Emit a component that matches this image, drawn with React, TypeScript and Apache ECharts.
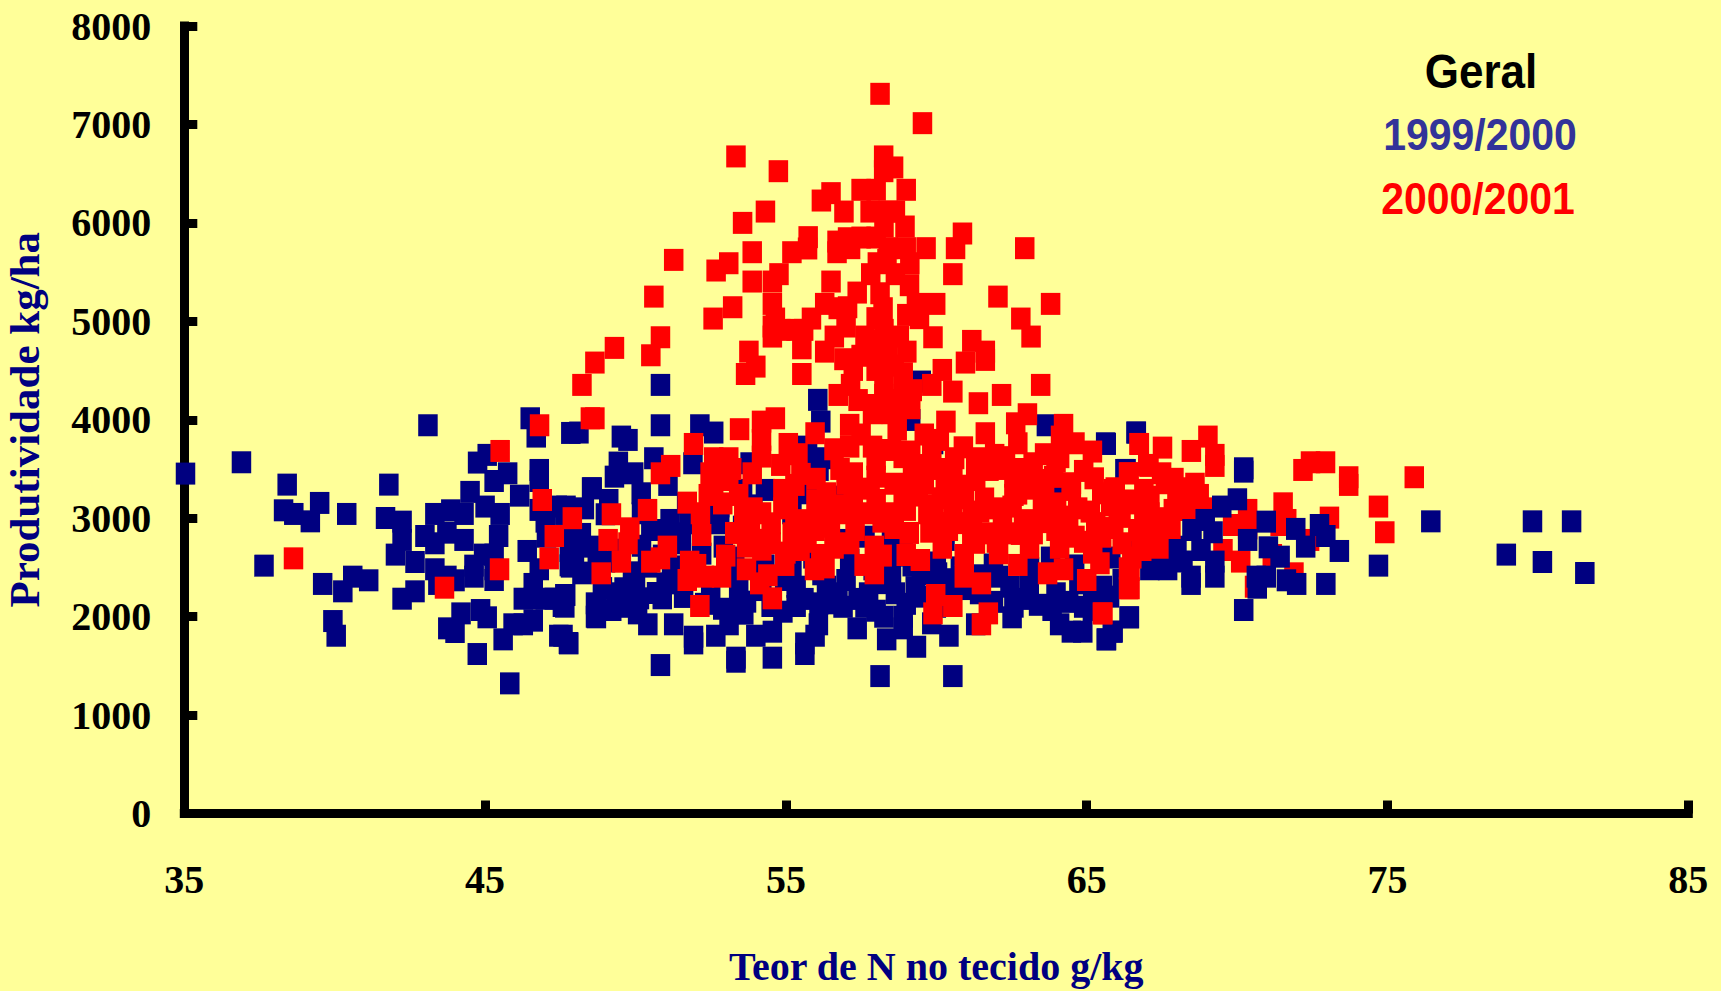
import React, { useEffect, useRef } from "react";
import * as echarts from "echarts";

const xTicks = [35, 45, 55, 65, 75, 85];
const yTicks = [0, 1000, 2000, 3000, 4000, 5000, 6000, 7000, 8000];

// 1999/2000 - drawn below the red points
const blueUnder: number[][] = [
[35.04,3453],[36.9,3568],[38.42,3341],[38.3,3080],[38.64,3043],[39.19,2968],[39.5,3155],[40.4,3043],[41.8,3341],[37.65,2518],
[39.6,2332],[40.27,2257],[40.6,2406],[41.13,2369],[39.94,1955],[40.05,1806],[43.1,3944],[41.69,3002],[42.24,2965],[42.24,2779],
[42.02,2630],[42.67,2555],[42.67,2257],[42.24,2182],[43.33,3043],[43.86,3080],[44.3,3043],[43.0,2819],[43.33,2745],[43.73,2853],
[44.3,2779],[43.33,2481],[43.73,2406],[44.0,2369],[43.43,2332],[43.76,1881],[44.0,1844],[44.2,2033],[44.85,2067],[45.07,1993],
[44.74,1620],[45.82,1322],[45.6,1769],[45.93,1922],[46.27,1922],[46.6,1959],[46.27,2182],[46.6,2182],[47.0,2182],[47.3,2182],
[47.68,2220],[47.57,2108],[46.6,2332],[46.8,2481],[44.63,2518],[44.63,2406],[44.95,2630],[45.3,2630],[45.3,2481],[45.3,2372],
[45.45,2819],[45.5,3043],[45.0,3118],[44.5,3267],[44.75,3565],[45.07,3643],[45.75,3456],[45.3,3378],[46.15,3229],[46.8,3490],
[46.8,3378],[46.7,3829],[46.5,4015],[47.85,3866],[46.4,2667],[46.8,3084],[47.0,2965],[47.4,3118],[47.65,3043],[47.04,2812],
[47.8,2667],[47.8,2521],[48.25,2447],[48.56,3304],[48.7,2067],[48.7,1993],[47.45,1806],[47.77,1732],
[48.12,3870],[50.83,3944],[52.14,3944],[52.6,3870],[49.53,3829],[49.75,3795],[56.16,3981],[59.15,3998],[50.61,3609],[49.43,3565],
[49.94,3456],[49.3,3422],[48.54,3304],[49.11,3185],[50.19,3253],[51.08,3338],[51.91,3558],[53.81,3558],[55.72,3710],[56.35,3609],
[55.85,3490],[56.1,3490],[55.47,3727],[63.66,3944],[66.65,3870],[65.63,3761],[66.27,3490],[64.0,3328],[59.91,3761],[47.69,3118],
[47.69,3050],[51.27,2846],[50.64,2880],[47.84,2795],[48.54,2711],[47.84,2508],[48.22,2440],[49.62,2288],[50.13,2186],[50.89,2186],
[47.65,2220],[47.65,2101],[48.67,2135],[48.67,1999],[49.21,2067],[50.07,2033],[50.41,1922],[51.27,1922],[47.78,1728],[47.59,1806],
[50.83,1508],[51.93,1728],[51.93,1796],[52.67,1806],[53.11,1922],[53.37,2067],[53.69,2152],[53.34,1583],[53.34,1542],[54.0,1806],
[54.55,1847],[54.55,1583],[55.63,1620],[55.63,1728],[55.97,1806],[56.08,1922],[54.51,2108],[55.34,2108],[56.1,2135],[56.48,2135],
[57.37,1881],[57.63,2101],[58.26,1999],[58.9,1999],[58.13,1396],[58.35,1769],[58.9,1881],[59.34,1694],[60.55,1396],[59.85,1932],
[60.42,1806],[61.31,1922],[62.52,1993],[62.58,2101],[63.85,2067],[64.1,1922],[64.49,1847],[64.87,1847],[65.66,1769],[65.88,1847],
[66.42,1993],[65.76,2203],[66.2,2372],[65.19,2067],[56.73,2237],[57.75,2237],[58.64,2237],[59.4,2203],[61.44,2237],[62.45,2304],
[63.09,2304],[63.98,2237],[64.74,2338],[65.5,2270],[55.34,2304],[56.35,2304],[57.0,2372],[58.51,2406],[60.04,2440],[62.07,2406],
[54.96,2372],[53.43,2270],[49.37,2237],[50.0,2338],[51.02,2338],[50.4,2508],[48.73,2643],[47.97,2643],[51.53,2745],[52.92,2711],
[53.05,2474],[50.51,2880],[51.15,2982],[51.78,2948],[52.8,2948],[53.56,2914],[57.12,2575],[56.74,2779],[57.63,2812],[58.51,2779],
[58.9,2812],[60.29,2779],[53.56,3287],[54.32,3287],[55.72,3253],[56.61,3219],[65.65,3754],[66.31,3490],[66.64,3870],[67.75,2626],
[67.1,2481],[67.69,2481],[66.18,2372],[65.52,2304],[66.41,1993],[65.85,1847],[65.65,1769],[59.5,4388],[56.06,4202],[50.83,4354],
[48.9,2290],[49.6,2100],[50.7,2240],[51.6,2200],[52.3,2130],[52.9,2080],[53.6,2030],[54.2,2270],[54.9,2050],[55.6,2180],
[56.9,2100],[57.4,2180],[58.0,2060],[58.3,2340],[59.0,2130],[59.3,2300],[60.0,2100],[60.5,2200],[60.9,2280],[61.9,2150],
[62.9,2180],[63.4,2120],[64.4,2150],[64.9,2100],[65.2,2240],[63.1,2490],[63.8,2600],[64.6,2520],[65.8,2600],[66.6,2660],
[59.5,2430],[60.8,2500],[61.9,2530],[55.9,2600],[55.2,2480],[54.3,2520],[53.3,2600],[52.2,2640],[51.2,2510],[49.4,2680],
[49.0,3040],[48.3,3100],[50.2,3050],[51.7,3150],[52.8,3120],[53.9,3130],[55.2,3050],[60.0,2550],[58.6,2620],[67.2,2560],[68.0,2710],[68.2,2560],
[48.2,2840],[49.0,2560],[49.9,2450],[50.2,2720],[50.9,2620],[51.5,2420],[52.5,2300],[56.2,2430],[57.9,2480],[59.2,2520],[60.3,2380],[61.5,2420]
];

// 2000/2001
const redValues: number[][] = [
[38.63,2592],[43.65,2294],[47.3,2819],[47.13,2592],[46.9,3185],[47.9,3000],[45.48,2481],[45.5,3683],[46.81,3944],[48.5,4015],
[58.13,7311],[59.54,7013],[53.34,6675],[54.75,6525],[58.25,6675],[58.25,6525],[58.58,6563],[56.5,6302],[56.18,6227],[57.5,6336],
[58.0,6336],[59.0,6336],[56.93,6115],[57.8,6115],[58.4,6115],[58.64,6115],[54.32,6115],[53.56,6000],[58.26,5963],[58.96,5963],
[55.74,5855],[60.87,5892],[60.64,5743],[55.72,5740],[55.2,5702],[53.88,5702],[56.7,5810],[57.05,5844],[57.5,5851],[58.0,5851],
[56.7,5702],[57.15,5743],[58.4,5743],[59.0,5743],[59.66,5743],[62.94,5743],[51.27,5624],[53.1,5590],[52.68,5516],[58.04,5590],
[58.36,5624],[59.12,5590],[53.88,5404],[54.77,5479],[54.55,5404],[56.5,5404],[57.82,5479],[58.64,5479],[59.11,5367],[60.55,5479],
[50.61,5251],[57.37,5292],[58.13,5285],[62.05,5251],[63.8,5177],[54.55,5177],[56.29,5177],[56.74,5133],[57.05,5143],[59.34,5177],
[59.98,5177],[58.23,5133],[53.23,5143],[52.58,5028],[54.65,5028],[55.85,5028],[57.0,4947],[58.0,5032],[59.02,5065],[59.44,5032],
[62.81,5028],[63.15,4845],[50.83,4838],[50.51,4655],[49.3,4730],[48.65,4581],[48.22,4354],[54.55,4947],[54.55,4845],[54.83,4913],
[55.34,4913],[55.59,4913],[55.53,4726],[56.61,4845],[56.29,4692],[56.93,4615],[57.63,4845],[58.26,4913],[58.77,4845],[57.75,4710],
[58.39,4710],[59.02,4692],[59.89,4838],[61.18,4801],[61.63,4692],[61.63,4608],[60.97,4581],[53.77,4692],[54.0,4540],[53.66,4465],
[55.53,4465],[57.24,4506],[58.0,4506],[58.9,4472],[60.2,4506],[59.85,4354],[60.55,4286],[61.4,4168],[62.17,4252],[63.47,4354],
[57.15,4354],[56.74,4252],[58.26,4354],[58.9,4354],[58.26,4252],[57.4,4200],[57.9,4150],[58.7,4200],[59.2,4300],[57.5,4650],[58.1,4600],[58.6,4550],[58.2,4800],
[48.65,4015],[53.46,3904],[54.19,3981],[54.65,4015],[54.19,3795],[55.08,3754],[51.93,3754],[55.97,3863],[57.88,4066],[58.51,4066],
[59.15,4117],[60.32,3981],[63.03,4056],[62.64,3964],[64.23,3948],[64.13,3829],[61.63,3863],[60.1,3795],[64.61,3761],[65.19,3677],
[62.71,3761],[66.75,3754],[57.12,3948],[57.12,3727],[57.88,3727],[58.51,3693],[59.15,3677],[59.85,3643],[60.61,3609],[61.31,3609],
[61.94,3643],[63.22,3558],[63.98,3575],[52.6,3609],[53.1,3609],[51.17,3531],[50.83,3456],[53.88,3456],[54.19,3626],[54.83,3541],
[52.48,3456],[53.1,3388],[57.24,3456],[58.0,3422],[59.21,3422],[60.55,3456],[61.31,3388],[61.75,3490],[62.58,3422],[63.34,3388],
[64.49,3355],[65.25,3405],[66.39,3456],[65.95,3304],[67.03,3541],[55.3,3338],[54.9,3287],[56.35,3253],[52.42,3236],[51.72,3158],
[53.43,3236],[57.24,3236],[58.0,3185],[58.9,3236],[60.17,3202],[60.93,3202],[62.58,3236],[63.6,3236],[64.49,3287],[65.5,3253],
[66.9,3287],[50.4,3084],[49.2,3040],[55.08,3151],[54.19,3050],[56.16,3050],[57.0,3050],[58.2,2965],[59.0,3084],[59.72,3050],
[60.55,3050],[61.44,3067],[62.52,3118],[63.53,3118],[64.3,3016],[65.12,3067],[66.14,3016],[52.16,3050],[52.2,2829],[49.81,2897],
[49.09,2779],[49.75,2745],[51.06,2711],[50.51,2558],[49.53,2558],[50.83,2592],[48.86,2440],[51.8,2558],[52.03,2525],[51.72,2372],
[52.29,2406],[52.86,2406],[53.69,2711],[53.82,2880],[53.69,2481],[54.13,2338],[54.55,2186],[52.14,2108],[54.51,2948],[55.21,2846],
[54.51,2745],[54.96,2525],[55.47,2677],[55.95,2481],[56.16,2626],[55.97,2880],[56.48,2914],[57.12,2745],[57.94,2711],[57.6,2525],
[57.94,2440],[59.0,2626],[59.47,2575],[59.79,2863],[61.18,2846],[59.98,2220],[59.89,2033],[60.55,2108],[61.73,2033],[61.5,1922],
[60.93,2626],[60.93,2406],[61.5,2338],[61.69,2846],[62.07,2643],[62.71,2525],[62.45,2846],[63.22,2846],[63.98,2880],[64.61,2812],
[65.5,2812],[63.7,2440],[64.23,2481],[65.0,2372],[65.44,2542],[66.39,2288],[66.39,2491],[65.54,2033],
[75.89,3416],[73.71,3416],[73.71,3338],[74.7,3118],[74.91,2857],[73.07,3006],[72.19,3490],[72.44,3568],[72.94,3568],[71.53,3151],
[71.65,2982],[71.43,2931],[72.41,2779],[71.89,2440],[70.35,3084],[69.85,2931],[70.35,2897],[69.53,2677],[70.12,2559],[70.58,2304],
[71.17,2626],[69.03,3829],[68.48,3683],[69.26,3643],[69.26,3531],[67.52,3717],[66.74,3754],[67.07,3531],[67.49,3456],[66.41,3456],
[67.62,3355],[68.28,3304],[68.74,3236],[65.9,3287],[67.1,3219],[67.1,3050],[67.88,3084],[68.2,3084],[66.05,3016],[66.7,2880],
[67.36,2880],[66.18,2745],[66.83,2677],[66.44,2474],[66.44,2288],[65.52,2033],
[53.9,3100],[54.9,3100],[55.6,2980],[56.7,3130],[57.6,3050],[58.6,3050],[59.4,3230],[60.1,2950],[60.9,3330],[61.9,3100],
[62.9,2980],[63.9,3030],[64.7,3100],[65.8,3130],[66.6,3150],[67.5,3000],[68.0,3200],[68.5,3100],[67.9,3400],[66.9,2950],
[58.0,3600],[57.5,3850],[58.7,3900],[59.6,3850],[60.3,3350],[62.1,3500],[63.0,3300],[64.0,3150],[65.3,2950],[61.3,2750],
[62.2,2950],[63.1,2700],[64.1,2700],[65.2,2650],[55.5,3450],[56.0,3400],[56.8,3500],[57.8,3300],[58.6,3350],[59.6,3350],
[60.5,3250],[61.6,3200],[62.9,3500],[63.6,3650],[56.6,2700],[55.0,2650],[54.2,2680],[53.3,2850],[58.6,2900],[59.1,2850],[60.2,2700],
[52.9,3150],[53.2,3500],[53.0,2620],[52.6,3300],[53.6,3050],[54.0,2780],[54.4,2420],[55.3,2950],[55.7,2760],[56.3,2500],
[57.3,2880],[58.2,2620],[59.9,3130],[60.4,2880],[61.0,2950],[62.0,2760],[62.8,2840],[63.5,2960],[64.4,2920],[64.9,2760],[65.9,2900],[66.5,2600],
[68.6,3350],[68.9,3100],[67.4,2700],[67.0,2800],[67.8,2900],[66.3,3180],[64.9,3480],[64.1,3620],[60.9,3720],[62.3,3620],
[59.4,3540],[58.9,3620],[56.6,3700],[55.4,3650],[56.0,3180],[57.0,3350],[61.2,3000],[62.7,3250],[60.0,3500],[63.9,3420]
];

// 1999/2000 - points lying over the red ones on the right-hand side
const blueOver: number[][] = [
[70.22,3473],[70.22,3507],[76.44,2968],[79.82,2968],[81.12,2968],[78.95,2630],[80.15,2555],[81.56,2443],[74.7,2518],[72.95,2332],
[73.4,2667],[72.95,2819],[72.74,2931],[72.28,2711],[71.95,2891],[71.98,2332],[71.64,2369],[71.43,2609],[71.04,2704],[70.97,2965],
[70.01,3192],[69.49,3118],[68.94,2982],[69.2,2857],[68.5,2880],[68.8,2677],[70.35,2779],[69.26,2559],[69.26,2406],[68.47,2406],
[68.47,2332],[70.67,2294],[70.64,2406],[70.97,2406],[70.22,2067]
];

const legendLines = ["Geral", "1999/2000", "2000/2001"];

const serif = "Liberation Serif";
const sans = "Liberation Sans";
const NAVY = "#000080";
const RED = "#FF0000";

export default function App() {
  const ref = useRef<HTMLDivElement>(null);
  useEffect(() => {
    document.body.style.margin = "0";
    document.body.style.background = "#FFFF99";
    const chart = echarts.init(ref.current!, undefined, { renderer: "svg" });
    const marker = {
      type: "scatter" as const,
      symbol: "rect",
      symbolSize: [19.5, 22],
      clip: false,
    };
    const axisLine = { show: true, onZero: false, lineStyle: { color: "#000", width: 9, cap: "square" as const } };
    const axisTick = { show: true, inside: true, length: 13, lineStyle: { color: "#000", width: 9 } };
    const tickLabel = { color: "#000", fontFamily: serif, fontWeight: "bold", fontSize: 40, formatter: (v: number) => String(v) };
    chart.setOption({
      animation: false,
      backgroundColor: "#FFFF99",
      grid: { left: 184.3, right: 32.7, top: 26, bottom: 177.5, containLabel: false, outerBoundsMode: "none" },
      xAxis: {
        type: "value", min: xTicks[0], max: xTicks[xTicks.length - 1], interval: 10,
        splitLine: { show: false }, axisLine, axisTick,
        axisLabel: { ...tickLabel, margin: 46 },
        name: "Teor de N no tecido g/kg", nameLocation: "middle", nameGap: 133,
        nameTextStyle: { color: NAVY, fontFamily: serif, fontWeight: "bold", fontSize: 40 },
      },
      yAxis: {
        type: "value", min: yTicks[0], max: yTicks[yTicks.length - 1], interval: 1000,
        splitLine: { show: false }, axisLine, axisTick,
        axisLabel: { ...tickLabel, margin: 33 },
        name: "Produtividade kg/ha", nameLocation: "middle", nameGap: 138,
        nameTextStyle: { color: NAVY, fontFamily: serif, fontWeight: "bold", fontSize: 43 },
      },
      series: [
        { ...marker, name: "1999/2000", data: blueUnder, itemStyle: { color: NAVY, opacity: 1 }, z: 2 },
        { ...marker, name: "2000/2001", data: redValues, itemStyle: { color: RED, opacity: 1 }, z: 3 },
        { ...marker, name: "1999/2000 ", data: blueOver, itemStyle: { color: NAVY, opacity: 1 }, z: 4 },
      ],
      graphic: [
        { type: "text", x: 1481, y: 71, scaleY: 1.1, style: { text: legendLines[0], fill: "#000", font: `bold 44px "${sans}"`, textAlign: "center", textVerticalAlign: "middle" } },
        { type: "text", x: 1480, y: 134, scaleY: 1.1, style: { text: legendLines[1], fill: "#333399", font: `bold 41px "${sans}"`, textAlign: "center", textVerticalAlign: "middle" } },
        { type: "text", x: 1478, y: 198, scaleY: 1.1, style: { text: legendLines[2], fill: RED, font: `bold 41px "${sans}"`, textAlign: "center", textVerticalAlign: "middle" } },
      ],
    });
    return () => chart.dispose();
  }, []);
  return <div ref={ref} style={{ width: 1721, height: 991 }} />;
}
